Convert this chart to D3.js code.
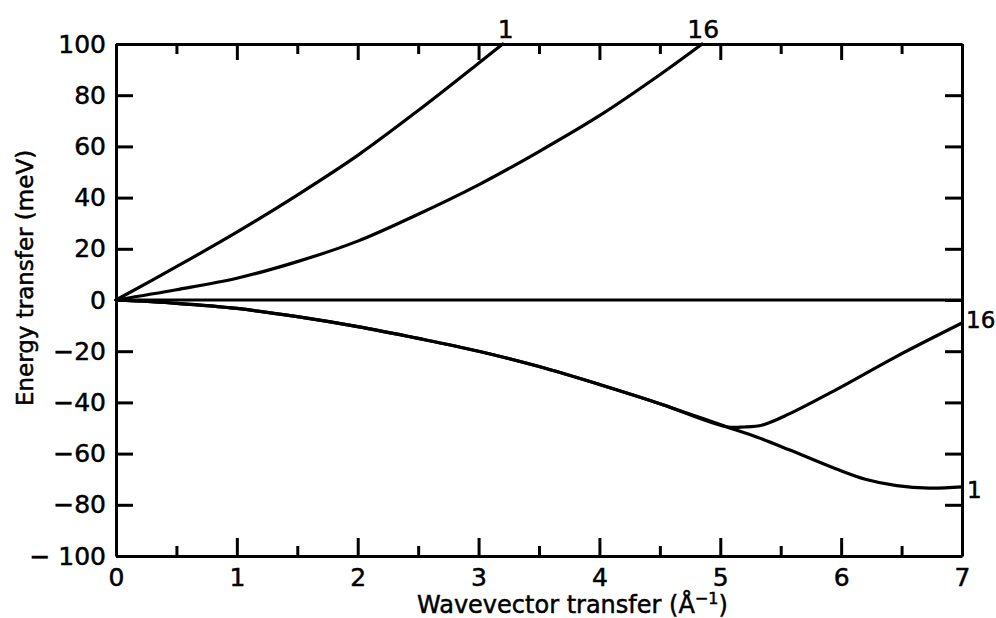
<!DOCTYPE html>
<html>
<head>
<meta charset="utf-8">
<script src="https://cdn.jsdelivr.net/npm/d3@7"></script>
<style>
  html, body { margin: 0; padding: 0; background: #fff; }
  svg { display: block; }
  text { font-family: "DejaVu Sans", sans-serif; fill: #000; stroke: #000; stroke-width: 0.5px; }
</style>
</head>
<body>
<svg id="chart" width="996" height="618"></svg>
<script>
// Dispersion branches: wavevector transfer (1/Å) vs energy transfer (meV)
const upper1X  = [0, 0.5, 1, 1.5, 2, 2.5, 3, 3.2];
const upper1Y  = [0, 13, 26.5, 41, 56.5, 74, 92.5, 100];

const upper16X = [0, 0.5, 1, 1.5, 2, 2.5, 3, 3.5, 4, 4.5, 4.85];
const upper16Y = [0, 4, 8.5, 15, 23, 33.5, 45, 58, 72, 88, 100];

// common lower branch up to the splitting point
const lowerX   = [0, 0.5, 1, 1.5, 2, 2.5, 3, 3.5, 4, 4.5, 5.05];
const lowerY   = [0, -1.3, -3.3, -6.5, -10.4, -15, -20, -26, -33, -40.5, -49.5];

const lower16X = [5.05, 5.2, 5.35, 5.57, 5.96, 6.46, 7];
const lower16Y = [-49.5, -49.6, -48.8, -44.5, -35, -22, -9];

const lower1X  = [5.05, 5.3, 5.57, 5.96, 6.2, 6.46, 6.73, 7];
const lower1Y  = [-49.5, -53.5, -58.5, -66, -70, -72.5, -73.5, -73];

const xMajorTicks = [0, 1, 2, 3, 4, 5, 6, 7];
const xMinorTicks = [0.5, 1.5, 2.5, 3.5, 4.5, 5.5, 6.5];
const yTicks = [100, 80, 60, 40, 20, 0, -20, -40, -60, -80, -100];
const yTickLabels = ["100", "80", "60", "40", "20", "0", "\u221220", "\u221240", "\u221260", "\u221280", "\u2212 100"];

const branchLabel1 = "1";
const branchLabel16 = "16";

const svg = d3.select("#chart");
const plotLeft = 116, plotRight = 962, plotTop = 44, plotBottom = 556;

const x = d3.scaleLinear().domain([0, 7]).range([plotLeft, plotRight]);
const y = d3.scaleLinear().domain([-100, 100]).range([plotBottom, plotTop]);

const styleAxis = g => {
  g.selectAll(".domain").attr("stroke", "#000").attr("stroke-width", 3);
  g.selectAll(".tick line").attr("stroke", "#000").attr("stroke-width", 3);
  g.selectAll("text").attr("font-family", "DejaVu Sans, sans-serif").attr("fill", "#000");
};

// bottom axis with labels
svg.append("g").attr("transform", `translate(0,${plotBottom})`)
  .call(d3.axisBottom(x).tickValues(xMajorTicks).tickSize(-18).tickSizeOuter(0).tickPadding(12)
        .tickFormat(d3.format("d")))
  .call(styleAxis)
  .call(g => g.selectAll("text").attr("font-size", 25));
svg.append("g").attr("transform", `translate(0,${plotBottom})`)
  .call(d3.axisBottom(x).tickValues(xMinorTicks).tickSize(-10).tickSizeOuter(0).tickFormat(""))
  .call(styleAxis).call(g => g.select(".domain").remove());

// top axis, ticks only
svg.append("g").attr("transform", `translate(0,${plotTop})`)
  .call(d3.axisTop(x).tickValues(xMajorTicks).tickSize(-16).tickSizeOuter(0).tickFormat(""))
  .call(styleAxis);
svg.append("g").attr("transform", `translate(0,${plotTop})`)
  .call(d3.axisTop(x).tickValues(xMinorTicks).tickSize(-10).tickSizeOuter(0).tickFormat(""))
  .call(styleAxis).call(g => g.select(".domain").remove());

// left axis with labels
svg.append("g").attr("transform", `translate(${plotLeft},0)`)
  .call(d3.axisLeft(y).tickValues(yTicks).tickSize(-17).tickSizeOuter(0).tickPadding(10)
        .tickFormat((d, i) => yTickLabels[i]))
  .call(styleAxis)
  .call(g => g.selectAll("text").attr("font-size", 25));

// right axis, ticks only
svg.append("g").attr("transform", `translate(${plotRight},0)`)
  .call(d3.axisRight(y).tickValues(yTicks).tickSize(-17).tickSizeOuter(0).tickFormat(""))
  .call(styleAxis);

// zero energy line
svg.append("line")
  .attr("x1", x(0)).attr("x2", x(7)).attr("y1", y(0)).attr("y2", y(0))
  .attr("stroke", "#000").attr("stroke-width", 2.8);

const line = d3.line().x(d => x(d[0])).y(d => y(d[1])).curve(d3.curveCatmullRom.alpha(0.5));
const zip = (xs, ys) => xs.map((v, i) => [v, ys[i]]);

const series = [
  zip(upper1X, upper1Y),
  zip(upper16X, upper16Y),
  zip(lowerX, lowerY).concat(zip(lower1X, lower1Y).slice(1)),
  zip(lowerX, lowerY).concat(zip(lower16X, lower16Y).slice(1))
];

svg.append("g").selectAll("path").data(series).join("path")
  .attr("d", line)
  .attr("fill", "none")
  .attr("stroke", "#000")
  .attr("stroke-width", 3.2)
  .attr("stroke-linejoin", "round")
  .attr("stroke-linecap", "round");

// branch labels
const labels = [
  { t: branchLabel1,  px: x(upper1X[upper1X.length - 1]) + 3,  py: plotTop - 6, anchor: "middle", fs: 25 },
  { t: branchLabel16, px: x(upper16X[upper16X.length - 1]) + 1, py: plotTop - 6, anchor: "middle", fs: 25 },
  { t: branchLabel16, px: plotRight + 4, py: y(lower16Y[lower16Y.length - 1]) + 5, anchor: "start", fs: 23 },
  { t: branchLabel1,  px: plotRight + 5, py: y(lower1Y[lower1Y.length - 1]) + 11, anchor: "start", fs: 23 }
];
svg.append("g").selectAll("text").data(labels).join("text")
  .attr("x", d => d.px).attr("y", d => d.py)
  .attr("text-anchor", d => d.anchor)
  .attr("font-size", d => d.fs)
  .text(d => d.t);

// axis titles
const xt = svg.append("text")
  .attr("x", 417).attr("y", 613)
  .attr("font-size", 24);
xt.append("tspan").text("Wavevector transfer (\u00C5");
xt.append("tspan").attr("dy", -9).attr("font-size", 16).text("\u22121");
xt.append("tspan").attr("dy", 9).text(")");

svg.append("text")
  .attr("transform", "translate(33,278) rotate(-90)")
  .attr("text-anchor", "middle")
  .attr("font-size", 23)
  .text("Energy transfer (meV)");
</script>
</body>
</html>
